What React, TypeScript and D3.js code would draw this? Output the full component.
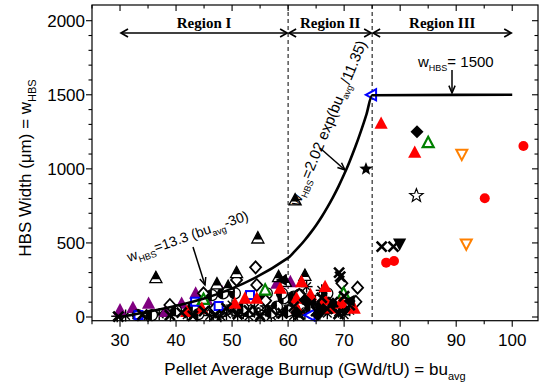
import React from "react";
import * as d3 from "d3";

const W = 539;
const H = 387;

// axis ticks
const xMajorTicks = [30, 40, 50, 60, 70, 80, 90, 100];
const yMajorTicks = [0, 500, 1000, 1500, 2000];

// model line
const modelBu = [30, 60, 61, 62, 63, 64, 65, 66, 67, 68, 69, 70, 71, 72, 73, 74, 75, 100];
const modelW = [0, 399, 436, 476, 520, 568, 620, 677, 740, 808, 882, 963, 1052, 1149, 1255, 1370, 1497, 1500];

// region boundaries
const regionNames = ["Region I", "Region II", "Region III"];
const regionStart = [30, 60, 75];
const regionEnd = [60, 75, 100];

// scatter series [burnup, width]
const purpleTriangles = [[30, 47], [32.3, 63], [35.1, 92], [38.1, 36], [41, 92], [43.5, 160], [48.2, 171], [45.5, 115], [58, 227], [60.4, 238]];
const redTriangles = [[41.9, 36], [44.6, 59], [50.5, 92], [52.3, 126], [54.4, 126], [58.6, 194], [61.6, 59], [62.4, 238], [61.5, 126], [66.6, 205], [69.3, 92], [71.8, 59], [64, 150], [67.5, 60], [76.6, 1307], [82.6, 1111]];
const halfTriangles = [[36.4, 265], [54.6, 533], [61.25, 790], [47.3, 223], [50.8, 299], [58.3, 272], [49.3, 205], [59.5, 240], [63, 280]];
const openDiamonds = [[38.9, 81], [44.9, 160], [50.8, 250], [54.4, 216], [54.2, 335], [69.6, 227], [72.4, 198], [72.1, 103], [56, 110], [62, 150], [47, 60]];
const blackXs = [[29.7, 2], [34, 15], [38.9, 13], [41, 30], [43, 8], [45, 40], [47, 12], [49, 60], [51, 20], [53, 45], [55, 5], [57, 50], [59, 25], [61, 70], [62, 15], [64, 90], [65, 40], [66, 130], [67, 55], [68, 100], [69, 20], [69.3, 272], [69.1, 300], [70, 140], [71, 80], [76.7, 475], [78.8, 475]];
const asterisks = [[29.5, 5], [31, 10], [33, 15], [35, 8], [37, 20], [39, 10], [42, 15], [44, 25], [46, 10], [47, 30], [48, 5], [49, 20], [50, 40], [51, 12], [52, 25], [53, 5], [54, 35], [55, 15], [56, 45], [57, 8], [58, 30], [59, 18], [60, 50], [61, 10], [62, 35], [63, 22], [64, 60], [65, 12], [66, 40], [67, 25], [68, 70], [69, 35], [70, 15], [71, 45], [63.3, 205], [60.5, 80], [58, 60], [56, 75], [54, 60], [52, 70], [50, 80], [48, 55], [66, 180], [64.5, 110]];
const halfCircles = [[33.2, 13], [35.7, 13], [40, 45], [43, 60], [45.2, 137], [46.4, 148], [48.4, 160], [50.5, 160], [53, 40], [55.6, 126], [56.2, 160], [58, 70], [59.2, 126], [61, 137], [62, 150], [63, 120], [64, 60], [65, 110], [66, 80], [67, 160], [60, 40], [57, 30], [52, 60], [45, 70], [44, 20], [58.9, 160]];
const blueSquares = [[33.3, 13], [43.4, 103], [47.6, 74], [53.2, 148]];
const blueLeftTriangles = [[63.9, 13], [74.9, 1500]];
const greenTriangles = [[44.9, 119], [55.9, 182], [69.9, 160], [85, 1177]];
const blackDiamonds = [[63, 115], [65.3, 15], [66, 60], [68, 90], [70, 50], [61.5, 30], [83, 1251]];
const redCircles = [[69.6, 88], [66.5, 110], [77.5, 367], [78.9, 378], [95.1, 801], [102, 1154]];
const orangeDownTriangles = [[91, 1098], [91.8, 493]];
const filledStars = [[73.9, 999]];
const openStars = [[82.9, 819]];
const blackDownTriangles = [[79.9, 493]];
const blackLeftTriangles = [[58.9, 250], [71, 110]];

const x = d3.scaleLinear().domain([25, 104.6]).range([92, 538]);
const y = d3.scaleLinear().domain([-25, 2106]).range([320.7, 5]);

const RED = "#ff0000";
const PURPLE = "#800080";
const GREEN = "#008000";
const BLUE = "#0000ff";
const ORANGE = "#ff8000";

function triPath(s: number, dir: "up" | "down" | "left") {
  const a = s * 0.58, b = s * 0.45, c = s * 0.55;
  if (dir === "up") return `M0,${-a}L${c},${b}L${-c},${b}Z`;
  if (dir === "down") return `M0,${a}L${c},${-b}L${-c},${-b}Z`;
  return `M${-a},0L${b},${-c}L${b},${c}Z`;
}
function starPath(r: number) {
  const pts: string[] = [];
  for (let i = 0; i < 10; i++) {
    const rr = i % 2 === 0 ? r : r * 0.42;
    const ang = -Math.PI / 2 + (i * Math.PI) / 5;
    pts.push(`${(rr * Math.cos(ang)).toFixed(2)},${(rr * Math.sin(ang)).toFixed(2)}`);
  }
  return "M" + pts.join("L") + "Z";
}

function Series({ data, render }: { data: number[][]; render: (i: number) => React.ReactNode }) {
  return (
    <g>
      {data.map((d, i) => (
        <g key={i} transform={`translate(${x(d[0])},${y(d[1])})`}>{render(i)}</g>
      ))}
    </g>
  );
}

export default function App() {
  const line = d3
    .line<number>()
    .x((_, i) => x(modelBu[i]))
    .y((_, i) => y(modelW[i]))
    .curve(d3.curveMonotoneX);
  const lineD = line(modelBu) || "";

  const xMinor = d3.range(25, 105, 5);
  const yMinor = d3.range(0, 2100, 100);
  const left = x.range()[0], right = x.range()[1];
  const bottom = y.range()[0], top = y.range()[1];
  const font = "Liberation Sans, Arial, sans-serif";
  const serif = "Liberation Serif, Times New Roman, serif";

  const arrowH = (x1: number, x2: number, yy: number) => (
    <g stroke="#000" strokeWidth={1.7} fill="none">
      <line x1={x1 + 1} y1={yy} x2={x2 - 1} y2={yy} />
      <path d={`M${x1 + 8},${yy - 4}L${x1 + 1},${yy}L${x1 + 8},${yy + 4}`} />
      <path d={`M${x2 - 8},${yy - 4}L${x2 - 1},${yy}L${x2 - 8},${yy + 4}`} />
    </g>
  );

  const pointer = (x1: number, y1: number, x2: number, y2: number) => {
    const ang = Math.atan2(y2 - y1, x2 - x1);
    const L = 8, A = 0.4;
    const p1 = [x2 - L * Math.cos(ang - A), y2 - L * Math.sin(ang - A)];
    const p2 = [x2 - L * Math.cos(ang + A), y2 - L * Math.sin(ang + A)];
    return (
      <g stroke="#000" strokeWidth={1.5} fill="none">
        <line x1={x1} y1={y1} x2={x2} y2={y2} />
        <path d={`M${p1[0]},${p1[1]}L${x2},${y2}L${p2[0]},${p2[1]}`} />
      </g>
    );
  };

  return (
    <svg width={W} height={H} style={{ display: "block" }}>
      <style>{`body{margin:0}`}</style>
      <rect width={W} height={H} fill="#fff" />

      {/* dashed region boundaries */}
      {[60, 75].map((v) => (
        <line key={v} x1={x(v)} x2={x(v)} y1={top} y2={bottom} stroke="#000" strokeWidth={1} strokeDasharray="4,3" />
      ))}

      {/* scatter */}
      <Series data={asterisks} render={() => (
        <g stroke="#000" strokeWidth={1.4}>
          <line x1={-6} y1={0} x2={6} y2={0} />
          <line x1={0} y1={-6} x2={0} y2={6} />
          <line x1={-4.3} y1={-4.3} x2={4.3} y2={4.3} />
          <line x1={-4.3} y1={4.3} x2={4.3} y2={-4.3} />
        </g>
      )} />
      <Series data={purpleTriangles} render={() => <path d={triPath(12, "up")} fill={PURPLE} />} />
      <Series data={halfCircles} render={() => (
        <g>
          <circle r={5.5} fill="#fff" stroke="#000" strokeWidth={1.3} />
          <path d="M0,-5.5A5.5,5.5 0 0 0 0,5.5Z" fill="#000" />
        </g>
      )} />
      <Series data={openDiamonds} render={() => <path d="M0,-6L5.5,0L0,6L-5.5,0Z" fill="#fff" stroke="#000" strokeWidth={1.8} />} />
      <Series data={halfTriangles} render={() => (
        <g>
          <path d={triPath(11, "up")} fill="#fff" stroke="#000" strokeWidth={1.3} />
          <path d={`M0,-6.4L4.2,1.5L-4.2,1.5Z`} fill="#000" />
        </g>
      )} />
      <Series data={blueSquares} render={() => <rect x={-4} y={-4} width={8} height={8} fill="#fff" stroke={BLUE} strokeWidth={2} />} />
      <Series data={blueLeftTriangles} render={() => <path d={triPath(10, "left")} fill="#fff" stroke={BLUE} strokeWidth={2} />} />
      <Series data={greenTriangles} render={() => <path d={triPath(10, "up")} fill="#fff" stroke={GREEN} strokeWidth={2.2} />} />
      <Series data={redTriangles} render={() => <path d={triPath(12, "up")} fill={RED} />} />
      <Series data={blackDiamonds} render={() => <path d="M0,-6.5L6.5,0L0,6.5L-6.5,0Z" fill="#000" />} />
      <Series data={blackLeftTriangles} render={() => <path d={triPath(11, "left")} fill="#000" />} />
      <Series data={redCircles} render={() => <circle r={5} fill={RED} />} />
      <Series data={blackXs} render={() => (
        <g stroke="#000" strokeWidth={2.6}>
          <line x1={-5} y1={-5} x2={5} y2={5} />
          <line x1={-5} y1={5} x2={5} y2={-5} />
        </g>
      )} />
      <Series data={orangeDownTriangles} render={() => <path d={triPath(10, "down")} fill="#fff" stroke={ORANGE} strokeWidth={2} />} />
      <Series data={filledStars} render={() => <path d={starPath(7)} fill="#000" />} />
      <Series data={openStars} render={() => <path d={starPath(7)} fill="#fff" stroke="#000" strokeWidth={1.2} />} />
      <Series data={blackDownTriangles} render={() => <path d={triPath(12, "down")} fill="#000" />} />

      {/* model line */}
      <path d={lineD} fill="none" stroke="#000" strokeWidth={2.6} />

      {/* frame */}
      <rect x={left} y={top} width={right - left} height={bottom - top} fill="none" stroke="#000" strokeWidth={1.2} />

      {/* x ticks */}
      {xMinor.map((v) => {
        const major = xMajorTicks.includes(v);
        const len = major ? 6 : 3.5;
        return (
          <g key={v} stroke="#000" strokeWidth={1.1}>
            <line x1={x(v)} x2={x(v)} y1={bottom} y2={bottom + len} />
            <line x1={x(v)} x2={x(v)} y1={top} y2={top + len} />
          </g>
        );
      })}
      {xMajorTicks.map((v) => (
        <text key={v} x={x(v)} y={346} textAnchor="middle" fontFamily={font} fontSize={17}>{v}</text>
      ))}
      {/* y ticks */}
      {yMinor.map((v) => {
        const major = yMajorTicks.includes(v);
        const len = major ? 6 : 3.5;
        return (
          <g key={v} stroke="#000" strokeWidth={1.1}>
            <line x1={left - len} x2={left} y1={y(v)} y2={y(v)} />
            <line x1={right - len} x2={right} y1={y(v)} y2={y(v)} />
          </g>
        );
      })}
      {yMajorTicks.map((v) => (
        <text key={v} x={85} y={y(v) + 6} textAnchor="end" fontFamily={font} fontSize={17}>{v}</text>
      ))}

      {/* axis titles */}
      <text x={315} y={375} textAnchor="middle" fontFamily={font} fontSize={17}>
        Pellet Average Burnup (GWd/tU) = bu<tspan fontSize={11} dy={5}>avg</tspan>
      </text>
      <text transform="translate(31,168) rotate(-90)" textAnchor="middle" fontFamily={font} fontSize={17}>
        HBS Width (μm) = w<tspan fontSize={11} dy={5}>HBS</tspan>
      </text>

      {/* regions */}
      {regionNames.map((n, i) => (
        <g key={n}>
          <text x={(x(regionStart[i]) + x(regionEnd[i])) / 2} y={28} textAnchor="middle" fontFamily={serif} fontWeight="bold" fontSize={15}>{n}</text>
          {arrowH(x(regionStart[i]), x(regionEnd[i]), 33)}
        </g>
      ))}

      {/* annotations */}
      <text transform="translate(129,262) rotate(-19.4)" fontFamily={font} fontSize={14}>
        w<tspan fontSize={9} dy={4}>HBS</tspan><tspan dy={-4}>=13.3 (bu</tspan><tspan fontSize={9} dy={4}>avg</tspan><tspan dy={-4}>-30)</tspan>
      </text>
      {pointer(193, 247, 205, 285)}

      <text transform="translate(299,207) rotate(-67.5)" fontFamily={font} fontSize={15}>
        w<tspan fontSize={9} dy={4}>HBS</tspan><tspan dy={-4}>=2.02 exp(bu</tspan><tspan fontSize={9} dy={4}>avg</tspan><tspan dy={-4}>/11.35)</tspan>
      </text>
      {pointer(320, 148, 345, 170)}

      <text x={418} y={67} fontFamily={font} fontSize={15}>
        w<tspan fontSize={9} dy={4}>HBS</tspan><tspan dy={-4}>= 1500</tspan>
      </text>
      {pointer(452, 70, 452, 93)}
    </svg>
  );
}
